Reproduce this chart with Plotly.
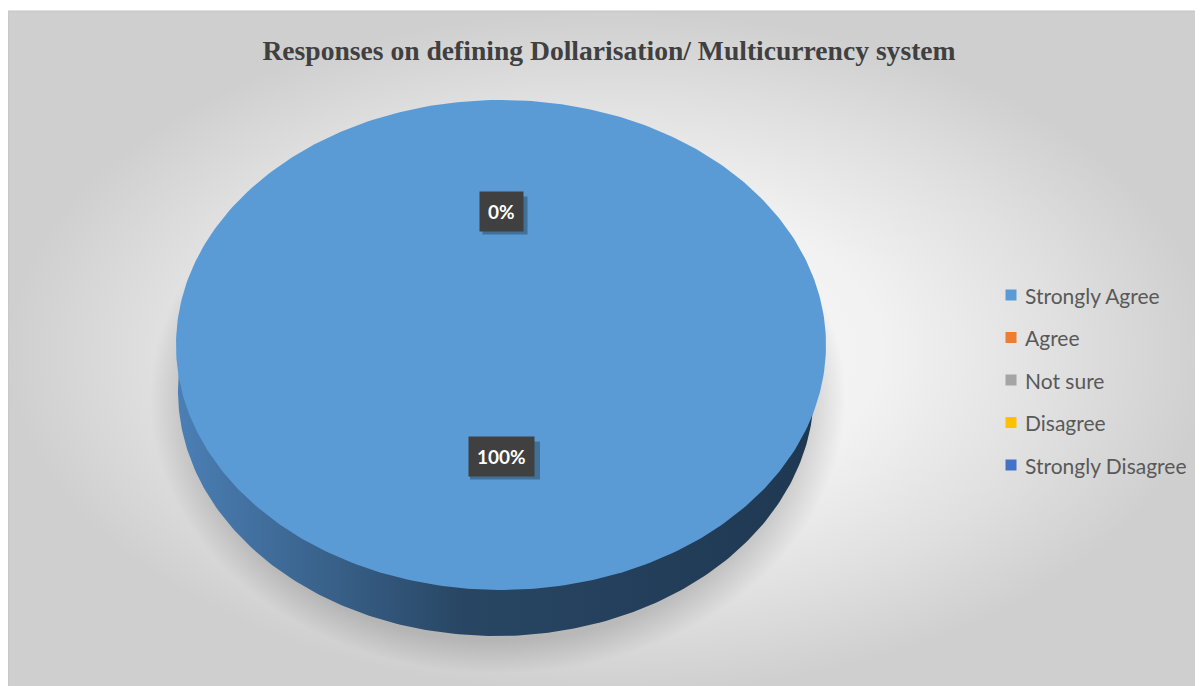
import numpy as np
import plotly.graph_objects as go

# ---------------- data ----------------
categories = ["Strongly Agree", "Agree", "Not sure", "Disagree", "Strongly Disagree"]
values = [100, 0, 0, 0, 0]
colors = ["#5B9BD5", "#ED7D31", "#A5A5A5", "#FFC000", "#4472C4"]
side_scales = [
    [[0, "#4B7FB5"], [0.45, "#284663"], [1, "#1F3852"]],
    [[0, "#C4622A"], [1, "#7A3A15"]],
    [[0, "#888888"], [1, "#555555"]],
    [[0, "#D9A300"], [1, "#8A6800"]],
    [[0, "#3A62A8"], [1, "#223A66"]],
]
title_text = "Responses on defining Dollarisation/ Multicurrency system"

# ---------------- geometry (pixel-like axes) ----------------
W, H = 1203, 686
CX, CY, RX, RY = 493, 337, 325, 245          # top face
BCX, BCY, BRX, BRY = 488, 383, 318, 245      # bottom of the side wall
LEG_X, LEG_Y0, LEG_STEP = 1003, 287, 42.5


def sector(cx, cy, rx, ry, f0, f1, n=400):
    """Elliptical sector, fractions of a turn clockwise from 12 o'clock."""
    k = max(3, int(n * (f1 - f0)) + 2)
    t = 2 * np.pi * np.linspace(f0, f1, k)
    xs = cx + rx * np.sin(t)
    ys = cy - ry * np.cos(t)
    if f1 - f0 < 0.9999:
        xs = np.concatenate([[cx], xs, [cx]])
        ys = np.concatenate([[cy], ys, [cy]])
    return xs, ys


fig = go.Figure()

# background panel with soft radial gradient
fig.add_trace(go.Scatter(
    x=[0, W, W, 0, 0], y=[3, 3, H, H, 3], mode="lines",
    line=dict(color="#C4C4C4", width=1), fill="toself",
    fillgradient=dict(type="radial",
                      colorscale=[[0, "#FAFAFA"], [0.45, "#F2F2F2"],
                                  [0.75, "#E0E0E0"], [1, "#CFCFCF"]]),
    hoverinfo="skip", showlegend=False))

# soft shadow under the pie
sx, sy = sector(BCX + 2, BCY + 8, BRX + 30, BRY + 30, 0, 1)
fig.add_trace(go.Scatter(
    x=sx, y=sy, mode="lines", line=dict(width=0), fill="toself",
    fillgradient=dict(type="radial",
                      colorscale=[[0, "rgba(0,0,0,0.25)"], [0.88, "rgba(0,0,0,0.16)"],
                                  [1, "rgba(0,0,0,0)"]]),
    hoverinfo="skip", showlegend=False))

total = float(sum(values))
fracs = [v / total for v in values]
cum = np.concatenate([[0], np.cumsum(fracs)])

# side walls
for i, f in enumerate(fracs):
    if f <= 0:
        continue
    xs, ys = sector(BCX, BCY, BRX, BRY, cum[i], cum[i + 1])
    fig.add_trace(go.Scatter(
        x=xs, y=ys, mode="lines", line=dict(width=0), fill="toself",
        fillgradient=dict(type="horizontal", colorscale=side_scales[i]),
        hoverinfo="skip", showlegend=False))

# top faces
for i, f in enumerate(fracs):
    if f <= 0:
        continue
    xs, ys = sector(CX, CY, RX, RY, cum[i], cum[i + 1])
    fig.add_trace(go.Scatter(
        x=xs, y=ys, mode="lines", line=dict(width=0), fill="toself",
        fillcolor=colors[i], name=categories[i], hoverinfo="name",
        showlegend=False))

annotations = []
shapes = [dict(type="rect", xref="x", yref="y", x0=985, x1=1187, y0=265, y1=479,
               fillcolor="rgba(255,255,255,0.22)", line=dict(width=0), layer="below")]

# legend (markers + text)
leg_y = [LEG_Y0 + i * LEG_STEP for i in range(len(categories))]
fig.add_trace(go.Scatter(
    x=[LEG_X] * len(categories), y=leg_y, mode="markers",
    marker=dict(symbol="square", size=11, color=colors),
    text=categories, hoverinfo="text", showlegend=False))
for i, c in enumerate(categories):
    annotations.append(dict(
        x=LEG_X + 12, y=leg_y[i], xref="x", yref="y", xanchor="left",
        yanchor="middle", showarrow=False, text=c,
        font=dict(family="Lato, Noto Sans, sans-serif", size=21, color="#595959")))

# data labels (labels falling on the same spot are drawn once, as in the original)
seen = set()
for i, f in enumerate(fracs):
    mid = (cum[i] + cum[i + 1]) / 2
    t = 2 * np.pi * mid
    lx = CX + 0.5 * RX * np.sin(t)
    ly = CY - 0.5 * RY * np.cos(t) - 11
    label = "%d%%" % round(f * 100)
    key = (round(lx), round(ly), label)
    if key in seen:
        continue
    seen.add(key)
    bw = 20 + 12.5 * len(label)
    shapes.append(dict(type="rect", xref="x", yref="y",
                       x0=lx - bw / 2 + 4, x1=lx + bw / 2 + 4,
                       y0=ly - 19 + 4, y1=ly + 19 + 4,
                       fillcolor="rgba(0,0,0,0.28)", line=dict(width=0), layer="above"))
    annotations.append(dict(
        x=lx, y=ly, xref="x", yref="y", showarrow=False, text="<b>" + label + "</b>",
        font=dict(family="Lato, Noto Sans, sans-serif", size=19, color="white"),
        bgcolor="#404040", borderpad=8))

fig.update_layout(
    width=W, height=H,
    margin=dict(l=0, r=0, t=0, b=0),
    paper_bgcolor="white", plot_bgcolor="rgba(0,0,0,0)",
    xaxis=dict(range=[0, W], visible=False, fixedrange=True),
    yaxis=dict(range=[H, 0], visible=False, fixedrange=True),
    title=dict(text="<b>" + title_text + "</b>", x=601 / W, xanchor="center",
               y=1 - 42 / H, yanchor="middle",
               font=dict(family="Liberation Serif, Times New Roman, serif",
                         size=27.6, color="#404040")),
    showlegend=False,
    annotations=annotations,
    shapes=shapes,
)

fig.write_html("out.html")
